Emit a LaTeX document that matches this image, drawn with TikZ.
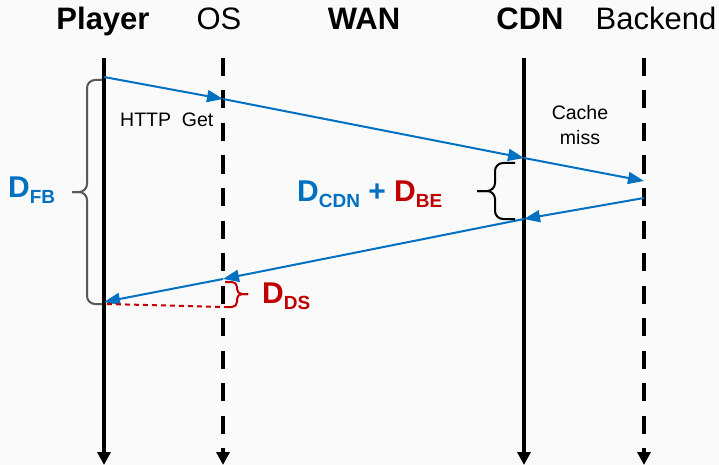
\documentclass[tikz,border=0pt]{standalone}
\usepackage{fontspec}
\setmainfont{Liberation Sans}
\usetikzlibrary{arrows.meta}

\definecolor{msgblue}{RGB}{0,112,192}
\definecolor{delayred}{RGB}{192,0,0}
\definecolor{bracegray}{RGB}{89,89,89}
\definecolor{paper}{RGB}{250,250,250}

\begin{document}
\begin{tikzpicture}[x=1pt, y=-1pt,
	title/.style={font=\fontsize{31}{31}\selectfont, anchor=base, inner sep=0pt},
	note/.style={font=\fontsize{19.5}{25}\selectfont, inner sep=0pt},
	delay/.style={font=\fontsize{30}{30}\selectfont\bfseries, anchor=base west, inner sep=0pt},
	lifeline/.style={line width=4pt, -{Triangle[length=13pt,width=13pt]}},
	lifedash/.style={lifeline, dash pattern=on 18pt off 14.5pt},
	msg/.style={msgblue, line width=2pt, -{Triangle[length=16pt,width=12pt]}},
	curly/.style={line width=2pt, rounded corners=8pt},
]

% parameters %{{{2

	\def\sub#1{\raisebox{-6pt}{\fontsize{19}{19}\selectfont #1}}

	\fill[paper] (0,0) rectangle (719,465);
	\useasboundingbox (0,0) rectangle (719,465);

% lifelines %{{{2

	\foreach \n/\x/\s in {player/104/lifeline, os/223/lifedash, cdn/524/lifeline, backend/644/lifedash} {
		\coordinate (\n-top) at (\x,58);
		\coordinate (\n-bot) at (\x,465);
		\draw[\s] (\n-top) -- (\n-bot);
	}

% titles %{{{2

	\node[title, font=\fontsize{31}{31}\selectfont\bfseries] (player) at (103,30) {Player};
	\node[title] (os) at (219,30) {OS};
	\node[title, font=\fontsize{31}{31}\selectfont\bfseries] (wan) at (364,30) {WAN};
	\node[title, font=\fontsize{31}{31}\selectfont\bfseries] (cdn) at (530,30) {CDN};
	\node[title] (backend) at (656,30) {Backend};

% events %{{{2

	\coordinate (e0) at (104,77);
	\coordinate (e1) at (223,99);
	\coordinate (e2) at (524,158);
	\coordinate (e3) at (644,181);
	\coordinate (e4) at (644,198);
	\coordinate (e5) at (524,219);
	\coordinate (e6) at (223,279);
	\coordinate (e7) at (104,302);

% messages %{{{2

	\foreach \a/\b in {0/1, 1/2, 2/3, 4/5, 5/6, 6/7} {
		\draw[msg] (e\a) -- (e\b);
	}

	\coordinate (ds0) at (107,304);
	\coordinate (ds1) at (225,307);
	\draw[delayred, line width=2pt, dash pattern=on 5pt off 4pt] (ds0) -- (ds1);

% braces %{{{2

	\draw[curly, bracegray] (102,80) -- (87,80) -- (87,192) -- (72,192);
	\draw[curly, bracegray] (102,304) -- (87,304) -- (87,192) -- (72,192);

	\draw[curly] (515,163) -- (495,163) -- (495,191) -- (477,191);
	\draw[curly] (515,219) -- (495,219) -- (495,191) -- (477,191);

	\draw[curly, delayred, rounded corners=5pt] (225,282) -- (237,282) -- (237,294) -- (248,294);
	\draw[curly, delayred, rounded corners=5pt] (ds1) -- (237,307) -- (237,294) -- (248,294);

% labels %{{{2

	\node[note, anchor=base west] (get) at (120,127) {HTTP\ \ Get};
	\node[note, align=center] (miss) at (580,125.5) {Cache\\miss};

	\node[delay, text=msgblue] (dfb) at (8,197) {D\sub{FB}};
	\node[delay] (dcdn) at (297,201) {{\color{msgblue}D\sub{CDN} +} {\color{delayred}D\sub{BE}}};
	\node[delay, text=delayred] (dds) at (262,303) {D\sub{DS}};

% closing %{{{2

\end{tikzpicture}
\end{document}
